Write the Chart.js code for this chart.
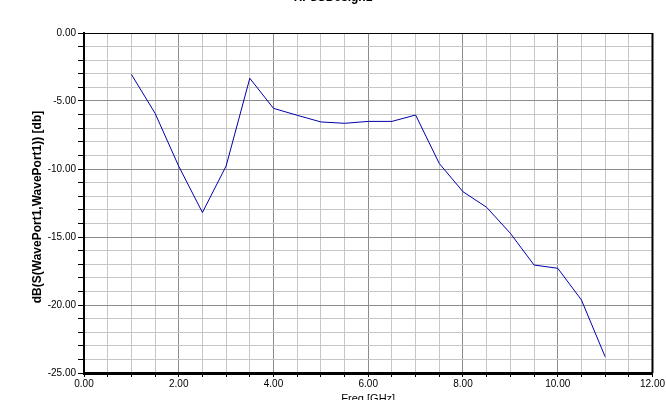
<!DOCTYPE html>
<html>
<head>
<meta charset="utf-8">
<script src="https://cdn.jsdelivr.net/npm/chart.js@4"></script>
<style>
  html, body { margin: 0; padding: 0; background: #fff; }
  #wrap { width: 666px; height: 400px; }
</style>
</head>
<body>
<div id="wrap"><canvas id="chart-s11"></canvas></div>
<script>
// Data (Freq in GHz, dB(S11))
const freqGHz = [1.0, 1.5, 2.0, 2.5, 3.0, 3.5, 4.0, 4.5, 5.0, 5.5, 6.0, 6.5, 7.0, 7.5, 8.0, 8.5, 9.0, 9.5, 10.0, 10.5, 11.0];
const s11dB = [-3.04, -5.9, -9.8, -13.2, -9.78, -3.33, -5.54, -6.05, -6.54, -6.64, -6.5, -6.5, -6.03, -9.6, -11.67, -12.82, -14.73, -17.06, -17.3, -19.63, -23.8];
const chartTitle = 'HFSSDesign1';
const xTitle = 'Freq [GHz]';
const yTitle = 'dB(S(WavePort1,WavePort1)) [db]';

const FONT = 'Liberation Sans, Arial, sans-serif';

const gridColor = (major) => (ctx) => {
  const v = ctx.tick ? ctx.tick.value : 0;
  return Math.abs(v % major) < 1e-6 ? '#8c8c8c' : '#c6c6c6';
};

// frame + titles
const decor = {
  id: 'decor',
  afterDraw(chart) {
    const { ctx, chartArea: a } = chart;
    ctx.save();
    ctx.strokeStyle = '#000';
    ctx.lineWidth = 1;
    ctx.beginPath();
    ctx.moveTo(a.left, a.top + 0.5);
    ctx.lineTo(a.right, a.top + 0.5);
    ctx.stroke();
    ctx.lineWidth = 2;
    ctx.beginPath();
    ctx.moveTo(a.right, a.top);
    ctx.lineTo(a.right, a.bottom);
    ctx.stroke();

    ctx.fillStyle = '#000';
    ctx.textAlign = 'center';
    ctx.textBaseline = 'middle';
    ctx.font = 'bold 12px ' + FONT;
    ctx.fillText(chartTitle, 333, -2);
    ctx.font = '11px ' + FONT;
    ctx.fillText(xTitle, (a.left + a.right) / 2, 399);
    ctx.translate(38, 207);
    ctx.rotate(-Math.PI / 2);
    ctx.font = 'bold 12px ' + FONT;
    ctx.fillText(yTitle, 0, 0);
    ctx.restore();
  }
};

new Chart(document.getElementById('chart-s11'), {
  type: 'line',
  data: {
    datasets: [{
      data: freqGHz.map((f, i) => ({ x: f, y: s11dB[i] })),
      borderColor: '#0000a8',
      borderWidth: 1,
      pointRadius: 0,
      tension: 0,
      fill: false
    }]
  },
  options: {
    responsive: true,
    maintainAspectRatio: false,
    animation: false,
    layout: { padding: { left: 0, top: 33, right: 12, bottom: 0 } },
    plugins: { legend: { display: false }, tooltip: { enabled: false } },
    scales: {
      x: {
        type: 'linear', min: 0, max: 12,
        afterFit: (s) => { s.height = 27; },
        ticks: {
          stepSize: 0.5, autoSkip: false, maxRotation: 0, padding: 1,
          color: '#000', font: { family: FONT, size: 10 },
          callback: (v) => (Math.abs(v % 2) < 1e-6 ? v.toFixed(2) : '')
        },
        grid: { color: gridColor(2), lineWidth: 1, tickColor: '#000', tickLength: 4 },
        border: { color: '#000', width: 3 }
      },
      y: {
        min: -25, max: 0,
        afterFit: (s) => { s.width = 84; },
        ticks: {
          stepSize: 1, autoSkip: false, padding: 2,
          color: '#000', font: { family: FONT, size: 10 },
          callback: (v) => (Math.abs(v % 5) < 1e-6 ? v.toFixed(2) : '')
        },
        grid: { color: gridColor(5), lineWidth: 1, tickColor: '#000', tickLength: 6 },
        border: { color: '#000', width: 2 }
      }
    }
  },
  plugins: [decor]
});
</script>
</body>
</html>
